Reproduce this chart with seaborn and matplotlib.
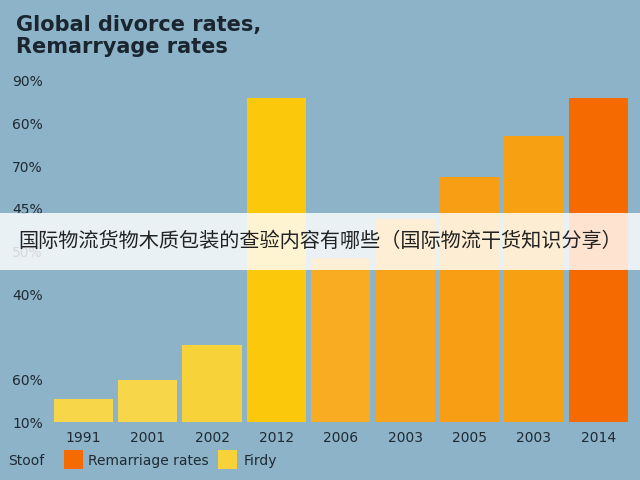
import numpy as np
import pandas as pd
import matplotlib
matplotlib.use("Agg")
import matplotlib.pyplot as plt
import seaborn as sns
from matplotlib.patches import Rectangle

years = ["1991", "2001", "2002", "2012", "2006", "2003", "2005", "2003", "2014"]
values = [5.5, 10, 18, 76, 38.5, 47.5, 57.5, 67, 76]
bar_colors = ["#f7d64a", "#f7d64a", "#f7d238", "#fcc80c", "#f9ab22",
              "#f8a41a", "#f79e14", "#f7a112", "#f56b02"]
ytick_labels = ["10%", "60%", "", "40%", "50%", "45%", "70%", "60%", "90%"]
legend_labels = ["Remarriage rates", "Firdy"]
legend_colors = ["#f56b02", "#f7d238"]

bg = "#8cb3c8"
sns.set_theme(style="white")
plt.rcParams["font.family"] = ["DejaVu Sans"]

fig = plt.figure(figsize=(6.4, 4.8), dpi=100, facecolor=bg)
ax = fig.add_axes([0.08, 0.12, 0.905, 0.73])
ax.set_facecolor(bg)

df = pd.DataFrame({"pos": range(len(years)), "val": values})
sns.barplot(data=df, x="pos", y="val", hue="pos", palette=bar_colors,
            legend=False, width=0.92, ax=ax, edgecolor="none", saturation=1)
ax.set_xticks(range(len(years)))
ax.set_xticklabels(years, fontsize=10, color="#1f2a33")
ax.set_yticks(np.arange(0, 90, 10))
ax.set_yticklabels(ytick_labels, fontsize=10, color="#1f2a33")
ax.set_ylim(0, 82)
ax.set_xlim(-0.5, len(years) - 0.5)
ax.set_xlabel("")
ax.set_ylabel("")
ax.tick_params(length=0, pad=6)
for s in ax.spines.values():
    s.set_visible(False)

fig.text(0.025, 0.935, "Global divorce rates,", fontsize=15, fontweight="bold", color="#1a2530")
fig.text(0.025, 0.89, "Remarryage rates", fontsize=15, fontweight="bold", color="#1a2530")

# legend row
fig.text(0.012, 0.04, "Stoof", fontsize=10, color="#1f2a33", va="center")
fig.patches.append(Rectangle((0.1, 0.022), 0.03, 0.04, transform=fig.transFigure,
                             facecolor=legend_colors[0], edgecolor="none"))
fig.text(0.137, 0.04, legend_labels[0], fontsize=10, color="#1f2a33", va="center")
fig.patches.append(Rectangle((0.34, 0.022), 0.03, 0.04, transform=fig.transFigure,
                             facecolor=legend_colors[1], edgecolor="none"))
fig.text(0.38, 0.04, legend_labels[1], fontsize=10, color="#1f2a33", va="center")

# overlay banner
fig.patches.append(Rectangle((0, 0.437), 1, 0.12, transform=fig.transFigure,
                             facecolor="white", alpha=0.82, edgecolor="none", zorder=5))
fig.text(0.5, 0.497, "国际物流货物木质包装的查验内容有哪些（国际物流干货知识分享）",
         fontsize=14.5, ha="center", va="center", color="#222222", zorder=6,
         family=["Noto Sans CJK SC", "DejaVu Sans"])

fig.savefig("out.png", dpi=100, facecolor=bg)
